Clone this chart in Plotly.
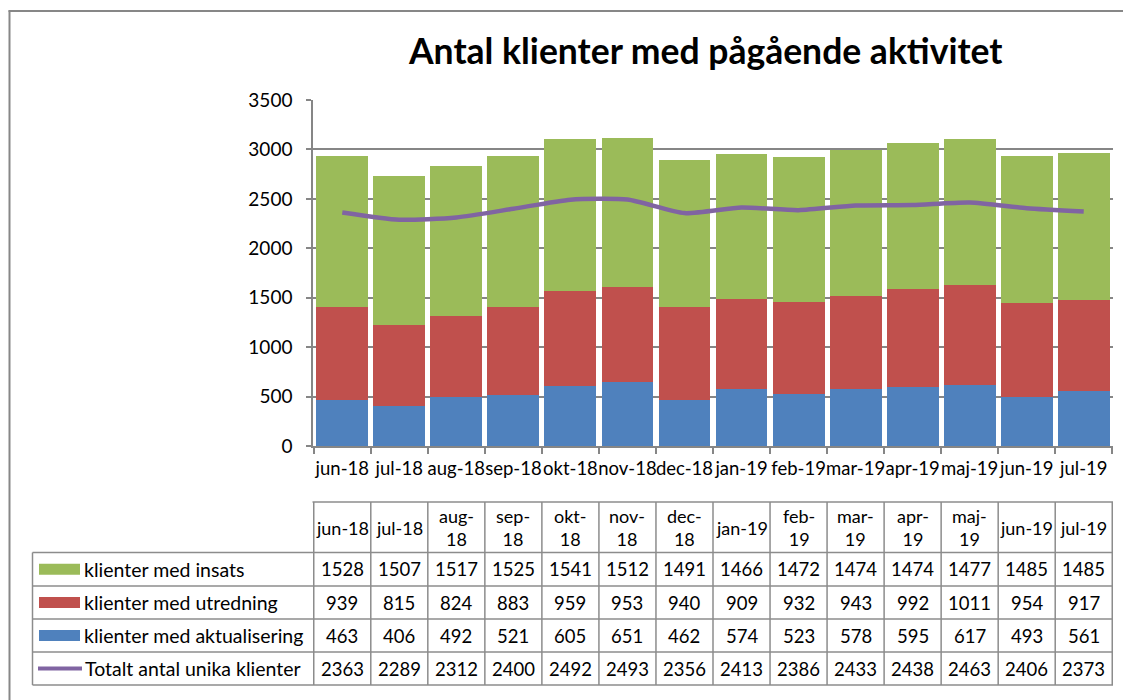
import plotly.graph_objects as go

months = ["jun-18", "jul-18", "aug-18", "sep-18", "okt-18", "nov-18", "dec-18",
          "jan-19", "feb-19", "mar-19", "apr-19", "maj-19", "jun-19", "jul-19"]
header_labels = ["jun-18", "jul-18", "aug-<br>18", "sep-<br>18", "okt-<br>18", "nov-<br>18", "dec-<br>18",
                 "jan-19", "feb-<br>19", "mar-<br>19", "apr-<br>19", "maj-<br>19", "jun-19", "jul-19"]
insats = [1528, 1507, 1517, 1525, 1541, 1512, 1491, 1466, 1472, 1474, 1474, 1477, 1485, 1485]
utredning = [939, 815, 824, 883, 959, 953, 940, 909, 932, 943, 992, 1011, 954, 917]
aktualisering = [463, 406, 492, 521, 605, 651, 462, 574, 523, 578, 595, 617, 493, 561]
totalt = [2363, 2289, 2312, 2400, 2492, 2493, 2356, 2413, 2386, 2433, 2438, 2463, 2406, 2373]

series_names = ["klienter med insats", "klienter med utredning",
                "klienter med aktualisering", "Totalt antal unika klienter"]

C_GREEN = "#9BBB59"
C_RED = "#C0504D"
C_BLUE = "#4F81BD"
C_PURPLE = "#8064A2"
GRID = "#868686"
BORDER = "#8C8C8C"
FONT = "Lato"
TXT = "#000000"

W, H = 1123, 700
L, R, T, B = 313, 10, 100, 254
PH = H - T - B  # 346
PW = W - L - R  # 800


def py(p):
    return (H - B - p) / PH


def pxp(p):
    return (p - L) / PW


fig = go.Figure()
fig.add_trace(go.Bar(x=months, y=aktualisering, name=series_names[2],
                     marker=dict(color=C_BLUE, line=dict(width=0))))
fig.add_trace(go.Bar(x=months, y=utredning, name=series_names[1],
                     marker=dict(color=C_RED, line=dict(width=0))))
fig.add_trace(go.Bar(x=months, y=insats, name=series_names[0],
                     marker=dict(color=C_GREEN, line=dict(width=0))))
fig.add_trace(go.Scatter(x=months, y=totalt, name=series_names[3], mode="lines",
                         line=dict(color=C_PURPLE, width=4.5, shape="spline", smoothing=0.6)))

shapes = []
# outer chart-area border (left & top)
shapes.append(dict(type="line", xref="paper", yref="paper", x0=pxp(9.5), x1=pxp(9.5),
                   y0=py(10.5), y1=py(710), line=dict(color="#878787", width=2)))
shapes.append(dict(type="line", xref="paper", yref="paper", x0=pxp(8.5), x1=pxp(1130),
                   y0=py(11), y1=py(11), line=dict(color="#878787", width=2)))

# data table grid
row_lines = [552.5, 586, 619, 652, 685]
header_top = 502
shapes.append(dict(type="line", xref="paper", yref="paper", x0=pxp(312.5), x1=pxp(1113),
                   y0=py(header_top), y1=py(header_top), line=dict(color=BORDER, width=1.5)))
for yl in row_lines:
    shapes.append(dict(type="line", xref="paper", yref="paper", x0=pxp(32.5), x1=pxp(1113),
                       y0=py(yl), y1=py(yl), line=dict(color=BORDER, width=1.5)))
shapes.append(dict(type="line", xref="paper", yref="paper", x0=pxp(32.5), x1=pxp(32.5),
                   y0=py(row_lines[0]), y1=py(row_lines[-1]), line=dict(color=BORDER, width=1.5)))
for i in range(len(months) + 1):
    shapes.append(dict(type="line", xref="x", yref="paper", x0=i - 0.5, x1=i - 0.5,
                       y0=py(header_top), y1=py(row_lines[-1]), line=dict(color=BORDER, width=1.5)))

# legend keys inside table
row_centers = [(row_lines[k] + row_lines[k + 1]) / 2 for k in range(4)]
key_colors = [C_GREEN, C_RED, C_BLUE]
for k, c in enumerate(key_colors):
    shapes.append(dict(type="rect", xref="paper", yref="paper", x0=pxp(39), x1=pxp(80),
                       y0=py(row_centers[k] - 5.5), y1=py(row_centers[k] + 5.5),
                       fillcolor=c, line=dict(width=0)))
shapes.append(dict(type="line", xref="paper", yref="paper", x0=pxp(38), x1=pxp(82),
                   y0=py(row_centers[3]), y1=py(row_centers[3]),
                   line=dict(color=C_PURPLE, width=4)))

annotations = []
annotations.append(dict(text="<b>Antal klienter med pågående aktivitet</b>", xref="paper", yref="paper",
                        x=pxp(705), y=py(50), xanchor="center", yanchor="middle", showarrow=False,
                        font=dict(family=FONT, size=35.5, color=TXT)))
for m, h in zip(months, header_labels):
    annotations.append(dict(text=h, xref="x", yref="paper", x=m, y=py(527.5),
                            xanchor="center", yanchor="middle", showarrow=False,
                            font=dict(family=FONT, size=18, color=TXT)))
table_rows = [insats, utredning, aktualisering, totalt]
for k, vals in enumerate(table_rows):
    annotations.append(dict(text=series_names[k], xref="paper", yref="paper",
                            x=pxp(82 if k < 3 else 83), y=py(row_centers[k]),
                            xanchor="left", yanchor="middle", showarrow=False,
                            font=dict(family=FONT, size=19.5, color=TXT)))
    for m, v in zip(months, vals):
        annotations.append(dict(text=str(v), xref="x", yref="paper", x=m, y=py(row_centers[k]),
                                xanchor="center", yanchor="middle", showarrow=False,
                                font=dict(family=FONT, size=18.5, color=TXT)))

fig.update_layout(
    width=W, height=H,
    margin=dict(l=L, r=R, t=T, b=B),
    paper_bgcolor="white", plot_bgcolor="white",
    barmode="stack", bargap=0.09,
    showlegend=False,
    shapes=shapes, annotations=annotations,
    font=dict(family=FONT, size=18, color=TXT),
    xaxis=dict(type="category", tickson="boundaries", ticks="outside", ticklen=6,
               tickcolor=GRID, tickwidth=1.5, showline=True, linecolor=GRID, linewidth=1.5,
               showgrid=False, tickfont=dict(family=FONT, size=18.5, color=TXT),
               tickangle=0, ticklabelstandoff=5, fixedrange=True),
    yaxis=dict(range=[0, 3500], dtick=500, tick0=0, ticks="outside", ticklen=5,
               tickcolor=GRID, tickwidth=1.5, showline=True, linecolor=GRID, linewidth=1.5,
               showgrid=True, gridcolor=GRID, gridwidth=1.5, zeroline=False,
               tickfont=dict(family=FONT, size=19, color=TXT), ticklabelstandoff=10,
               fixedrange=True),
)

fig.write_html("out.html", config={"displayModeBar": False},
               post_script="document.body.style.margin='0';document.body.style.overflow='hidden';")
